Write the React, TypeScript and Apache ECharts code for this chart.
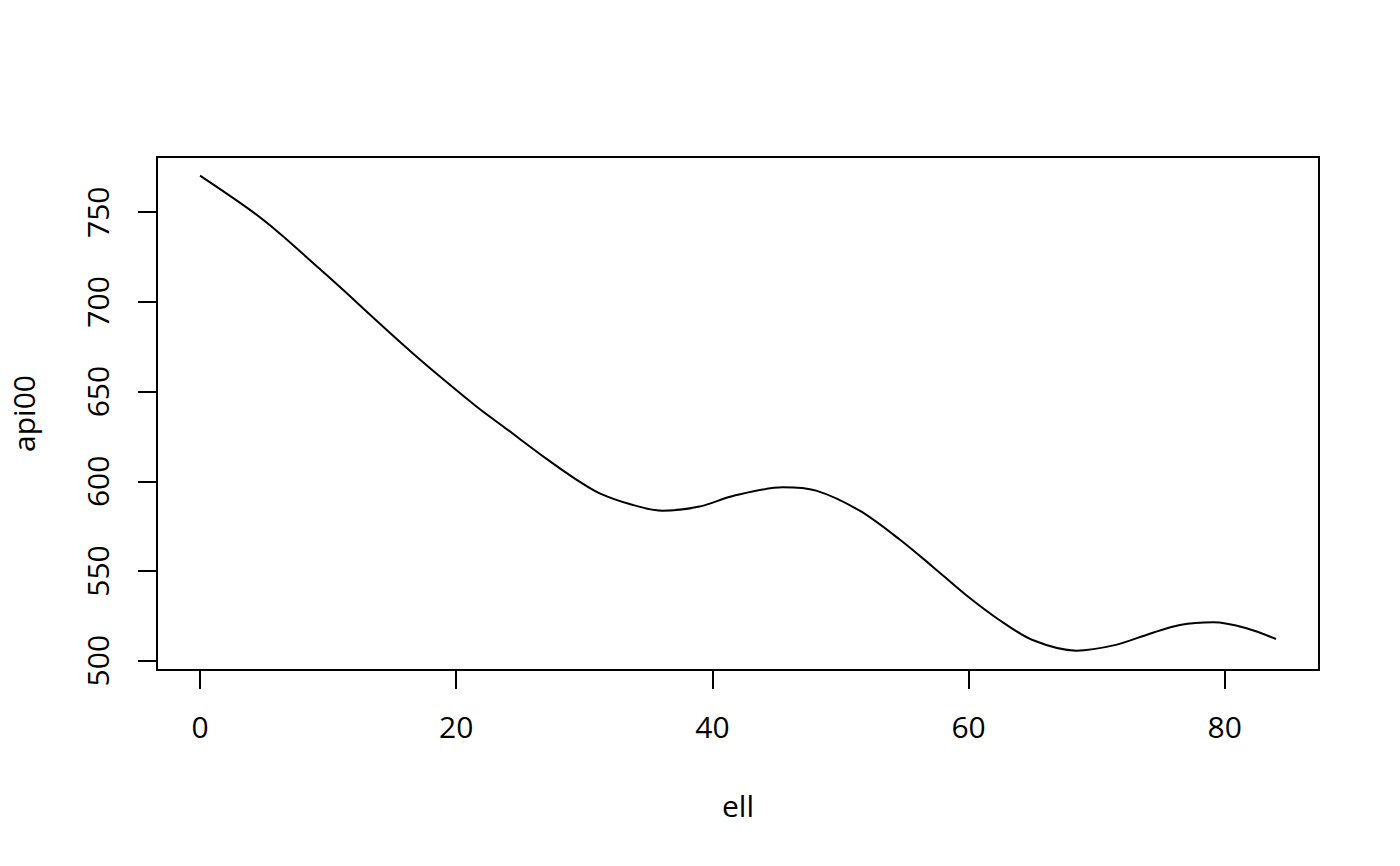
import React, { useEffect, useRef } from "react";
import * as echarts from "echarts";

const ell = [0, 3.9, 6.2, 8.8, 11.4, 14.0, 16.6, 19.2, 21.6, 24, 27, 29.5, 31.2, 33.8, 36.1, 39.0, 41.6, 45.5, 48.1, 51.5, 54.6, 57.2, 59.8, 62.4, 65.0, 68.4, 71.5, 74.1, 76.5, 79.1, 81.7, 84];
const api00 = [770.4, 751.3, 738.3, 721.9, 705.2, 688.1, 671.4, 655.6, 641.6, 628.8, 612.8, 600.4, 593.3, 586.8, 583.6, 585.9, 591.8, 596.7, 594.8, 583.6, 567.7, 552.4, 536.6, 522.7, 511.5, 505.6, 508.8, 514.9, 519.9, 521.4, 518.1, 512.1];
const xTicks = [0, 20, 40, 60, 80];
const yTicks = [500, 550, 600, 650, 700, 750];
const xName = "ell";
const yName = "api00";

const FONT = "'Open Sans', 'Noto Sans', sans-serif";

export default function App() {
  const ref = useRef<HTMLDivElement>(null);
  useEffect(() => {
    const chart = echarts.init(ref.current as HTMLDivElement, null, {
      renderer: "svg",
      width: 1400,
      height: 866,
    });
    chart.setOption({
      animation: false,
      backgroundColor: "#ffffff",
      textStyle: { fontFamily: FONT, color: "#000" },
      grid: {
        left: 157,
        top: 157,
        right: 81,
        bottom: 196,
        show: true,
        borderColor: "#000",
        borderWidth: 2,
        backgroundColor: "transparent",
      },
      xAxis: {
        type: "value",
        min: -3.36,
        max: 87.36,
        name: xName,
        nameLocation: "middle",
        nameGap: 120,
        nameTextStyle: { fontSize: 30, fontFamily: FONT, color: "#000" },
        axisLine: { show: false, onZero: false },
        splitLine: { show: false },
        axisTick: {
          show: true,
          customValues: xTicks,
          length: 19,
          lineStyle: { color: "#000", width: 2 },
        },
        axisLabel: {
          customValues: xTicks,
          fontSize: 30,
          fontFamily: FONT,
          color: "#000",
          margin: 41,
          hideOverlap: false,
        },
      },
      yAxis: {
        type: "value",
        min: 494.8,
        max: 780.8,
        name: yName,
        nameLocation: "middle",
        nameGap: 119,
        nameTextStyle: { fontSize: 30, fontFamily: FONT, color: "#000" },
        axisLine: { show: false, onZero: false },
        splitLine: { show: false },
        axisTick: {
          show: true,
          customValues: yTicks,
          length: 19,
          lineStyle: { color: "#000", width: 2 },
        },
        axisLabel: {
          customValues: yTicks,
          rotate: 90,
          align: "center",
          verticalAlign: "bottom",
          fontSize: 30,
          fontFamily: FONT,
          color: "#000",
          margin: 45,
          hideOverlap: false,
        },
      },
      series: [
        {
          type: "line",
          data: ell.map((x, i) => [x, api00[i]]),
          smooth: 0.3,
          showSymbol: false,
          symbol: "none",
          lineStyle: { color: "#000", width: 2 },
        },
      ],
    });
    return () => chart.dispose();
  }, []);
  return (
    <div
      ref={ref}
      style={{ position: "absolute", left: 0, top: 0, width: 1400, height: 866, background: "#fff" }}
    />
  );
}
